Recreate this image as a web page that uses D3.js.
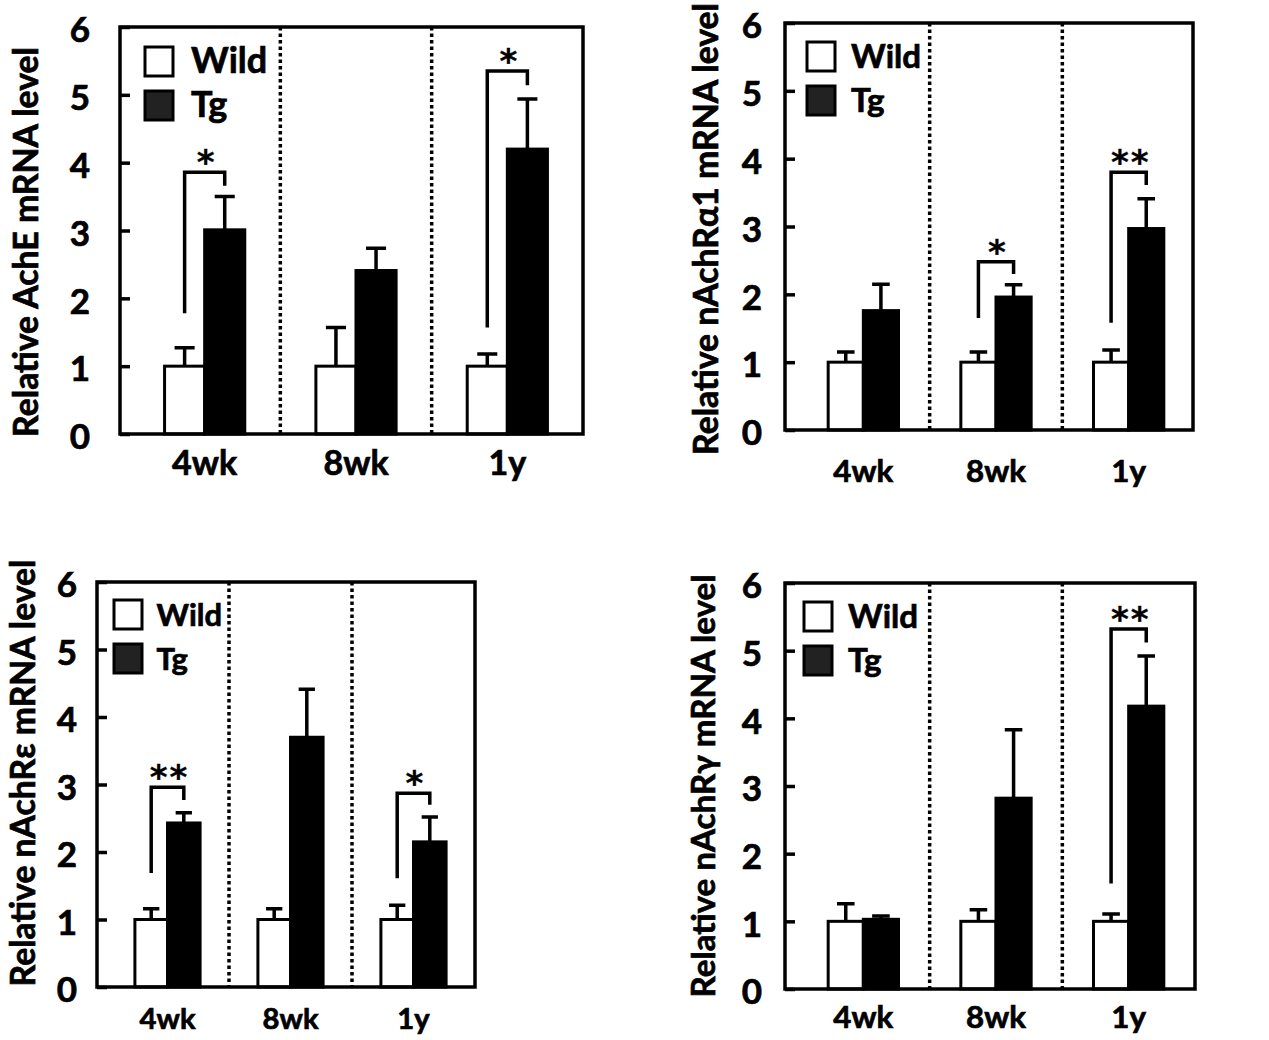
<!DOCTYPE html>
<html>
<head>
<meta charset="utf-8">
<script src="https://cdn.jsdelivr.net/npm/d3@7"></script>
<style>
  body { margin: 0; background: #fff; }
  svg { display: block; }
  text { font-family: Lato, "Noto Sans", sans-serif; font-weight: bold; fill: #000; stroke: #000; stroke-width: 0.7px; }
</style>
</head>
<body>
<div id="viz"></div>
<script>
const groups = ["4wk", "8wk", "1y"];
const seriesNames = ["Wild", "Tg"];
const yTicks = [0, 1, 2, 3, 4, 5, 6];

// AchE
const acheWild = [1, 1, 1], acheWildSe = [0.27, 0.57, 0.18];
const acheTg = [3.01, 2.41, 4.2], acheTgSe = [0.49, 0.33, 0.74];
const acheSig = [
  { g: "4wk", mark: "*", from: 1.78, top: 3.86, to: 3.66 },
  { g: "1y", mark: "*", from: 1.57, top: 5.35, to: 5.14 }
];

// nAchR alpha1
const alphaWild = [1, 1, 1], alphaWildSe = [0.15, 0.15, 0.18];
const alphaTg = [1.76, 1.96, 2.97], alphaTgSe = [0.39, 0.18, 0.44];
const alphaSig = [
  { g: "8wk", mark: "*", from: 1.65, top: 2.48, to: 2.3 },
  { g: "1y", mark: "**", from: 1.58, top: 3.8, to: 3.61 }
];

// nAchR epsilon
const epsWild = [1, 1, 1], epsWildSe = [0.16, 0.16, 0.21];
const epsTg = [2.43, 3.7, 2.15], epsTgSe = [0.15, 0.71, 0.37];
const epsSig = [
  { g: "4wk", mark: "**", from: 1.69, top: 2.96, to: 2.77 },
  { g: "1y", mark: "*", from: 1.61, top: 2.87, to: 2.7 }
];

// nAchR gamma
const gamWild = [1, 1, 1], gamWildSe = [0.26, 0.17, 0.11];
const gamTg = [1.03, 2.82, 4.18], gamTgSe = [0.05, 1.01, 0.74];
const gamSig = [
  { g: "1y", mark: "**", from: 1.56, top: 5.32, to: 5.12 }
];

const w = 1269, h = 1040;
const svg = d3.select("#viz")
  .append("svg")
  .attr("width", w)
  .attr("height", h);

// panel layout (pixels); k scales the legend / category fonts
const panels = [
  { title: "Relative AchE mRNA level", wild: acheWild, wildSe: acheWildSe, tg: acheTg, tgSe: acheTgSe, sig: acheSig,
    l: 120, r: 583, t: 27, b: 434, xr: [129, 583], tickPad: 30, xBase: 475, k: 1,
    leg: [145, 47], titleX: 25, titleY: 242, titleLen: 390 },
  { title: "Relative nAchRα1 mRNA level", wild: alphaWild, wildSe: alphaWildSe, tg: alphaTg, tgSe: alphaTgSe, sig: alphaSig,
    l: 785, r: 1193, t: 23, b: 430, xr: [797, 1195], tickPad: 23, xBase: 482, k: 0.92,
    leg: [807, 42], titleX: 705, titleY: 229, titleLen: 452 },
  { title: "Relative nAchRε mRNA level", wild: epsWild, wildSe: epsWildSe, tg: epsTg, tgSe: epsTgSe, sig: epsSig,
    l: 97, r: 475, t: 582, b: 987, xr: [106, 475], tickPad: 20, xBase: 1029, k: 0.86,
    leg: [114, 600], titleX: 22, titleY: 773, titleLen: 427 },
  { title: "Relative nAchRγ mRNA level", wild: gamWild, wildSe: gamWildSe, tg: gamTg, tgSe: gamTgSe, sig: gamSig,
    l: 785, r: 1195, t: 583, b: 989, xr: [797, 1195], tickPad: 23, xBase: 1028, k: 0.92,
    leg: [804, 602], titleX: 702, titleY: 786, titleLen: 423 }
];

const drawPanel = function (p) {
  const g = svg.append("g");
  const x = d3.scaleBand().domain(groups).range(p.xr);
  const y = d3.scaleLinear().domain([0, 6]).range([p.b, p.t]);
  const bw = x.bandwidth() * 0.265;
  const cap = bw * 0.5;

  // dotted separators
  g.selectAll(".sep")
    .data(groups.slice(1))
    .enter()
    .append("line")
    .attr("x1", d => x(d)).attr("x2", d => x(d))
    .attr("y1", p.t).attr("y2", p.b)
    .attr("stroke", "#000")
    .attr("stroke-width", 3.5)
    .attr("stroke-dasharray", "3.5,3");

  const rows = [];
  groups.forEach((grp, i) => {
    rows.push({ grp: grp, s: 0, v: p.wild[i], se: p.wildSe[i] });
    rows.push({ grp: grp, s: 1, v: p.tg[i], se: p.tgSe[i] });
  });
  const bx = d => x(d.grp) + x.bandwidth() / 2 - bw + d.s * bw;

  // error bars (upper only)
  g.selectAll(".err")
    .data(rows)
    .enter()
    .append("path")
    .attr("d", d => {
      const cx = bx(d) + bw / 2;
      return "M" + cx + "," + y(d.v) + "V" + y(d.v + d.se) + "M" + (cx - cap / 2) + "," + y(d.v + d.se) + "H" + (cx + cap / 2);
    })
    .attr("fill", "none")
    .attr("stroke", "#000")
    .attr("stroke-width", 3.5);

  // bars
  g.selectAll(".bar")
    .data(rows)
    .enter()
    .append("rect")
    .attr("x", bx)
    .attr("y", d => y(d.v))
    .attr("width", bw)
    .attr("height", d => y(0) - y(d.v))
    .attr("fill", d => d.s ? "#000" : "#fff")
    .attr("stroke", "#000")
    .attr("stroke-width", 3);

  // significance brackets
  g.selectAll(".sig")
    .data(p.sig)
    .enter()
    .append("path")
    .attr("d", d => {
      const x1 = x(d.g) + x.bandwidth() / 2 - bw / 2;
      const x2 = x(d.g) + x.bandwidth() / 2 + bw / 2;
      return "M" + x1 + "," + y(d.from) + "V" + y(d.top) + "H" + x2 + "V" + y(d.to);
    })
    .attr("fill", "none")
    .attr("stroke", "#000")
    .attr("stroke-width", 3.5);

  g.selectAll(".star")
    .data(p.sig)
    .enter()
    .append("text")
    .attr("x", d => x(d.g) + x.bandwidth() / 2 + 2)
    .attr("y", d => y(d.top) + 2)
    .attr("text-anchor", "middle")
    .style("font-family", "'DejaVu Sans', sans-serif")
    .style("font-size", "34px")
    .style("letter-spacing", "2px")
    .style("stroke-width", "0.3px")
    .text(d => d.mark);

  // frame
  g.append("rect")
    .attr("x", p.l).attr("y", p.t)
    .attr("width", p.r - p.l).attr("height", p.b - p.t)
    .attr("fill", "none")
    .attr("stroke", "#000")
    .attr("stroke-width", 3.5);

  // y axis
  const yAxis = g.append("g")
    .attr("transform", "translate(" + p.l + ",0)")
    .call(d3.axisLeft(y).tickValues(yTicks).tickFormat(d3.format("d")).tickSize(-10).tickPadding(p.tickPad));
  yAxis.select(".domain").remove();
  yAxis.selectAll("line").attr("stroke", "#000").attr("stroke-width", 3.5);
  yAxis.selectAll("text").attr("dy", "0.42em").attr("fill", null)
    .style("font-size", "35px").style("font-family", null);

  // x axis labels
  const xAxis = g.append("g")
    .attr("transform", "translate(0," + p.b + ")")
    .call(d3.axisBottom(x).tickSize(0));
  xAxis.select(".domain").remove();
  xAxis.selectAll("text")
    .attr("y", p.xBase - p.b)
    .attr("dy", 0)
    .attr("fill", null)
    .style("font-size", (34 * p.k) + "px")
    .style("font-family", null);

  // legend
  const leg = g.selectAll(".leg")
    .data(seriesNames)
    .enter()
    .append("g")
    .attr("transform", (d, i) => "translate(" + p.leg[0] + "," + (p.leg[1] + i * 44) + ")");
  leg.append("rect")
    .attr("width", 28).attr("height", 29)
    .attr("fill", (d, i) => i ? "#222" : "#fff")
    .attr("stroke", "#000")
    .attr("stroke-width", 3);
  leg.append("text")
    .attr("x", 46 - (1 - p.k) * 25).attr("y", 26)
    .style("font-size", (36 * p.k) + "px")
    .text(d => d);

  // y title, sized to the reference length
  const tt = g.append("text")
    .attr("transform", "translate(" + p.titleX + "," + p.titleY + ") rotate(-90)")
    .attr("text-anchor", "middle")
    .attr("dominant-baseline", "central")
    .style("font-size", "30px")
    .text(p.title);
  const len = tt.node().getComputedTextLength();
  tt.style("font-size", (30 * p.titleLen / len) + "px");
};

panels.forEach(drawPanel);
</script>
</body>
</html>
